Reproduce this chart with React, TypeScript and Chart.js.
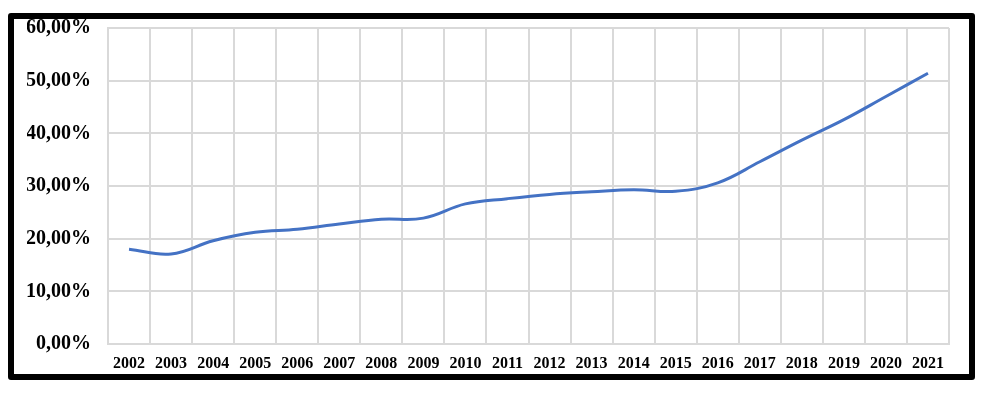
import React, { useEffect, useRef } from "react";
import { Chart, registerables } from "chart.js";

Chart.register(...registerables);

const years = ["2002","2003","2004","2005","2006","2007","2008","2009","2010","2011","2012","2013","2014","2015","2016","2017","2018","2019","2020","2021"];
const shareValues = [18.0, 17.1, 19.6, 21.2, 21.8, 22.8, 23.7, 23.9, 26.6, 27.6, 28.4, 28.9, 29.3, 29.0, 30.6, 34.6, 38.7, 42.6, 47.0, 51.4];
const yMin = 0;
const yMax = 60;
const yStep = 10;

export default function App() {
  const ref = useRef<HTMLCanvasElement>(null);
  useEffect(() => {
    if (!ref.current) return;
    const chart = new Chart(ref.current, {
      type: "line",
      data: {
        labels: years,
        datasets: [
          {
            data: shareValues,
            borderColor: "#4472C4",
            borderWidth: 3,
            pointRadius: 0,
            tension: 0.4,
            fill: false,
          },
        ],
      },
      options: {
        animation: false,
        responsive: false,
        maintainAspectRatio: false,
        layout: { padding: { left: 13, right: 20, top: 0, bottom: -19 } },
        plugins: { legend: { display: false }, tooltip: { enabled: false } },
        scales: {
          x: {
            offset: true,
            grid: { color: "#d9d9d9", lineWidth: 2, offset: true, drawTicks: false },
            border: { color: "#d9d9d9", width: 2 },
            ticks: {
              color: "#000",
              padding: 10,
              maxRotation: 0,
              autoSkip: false,
              font: { family: "'Liberation Serif', 'Times New Roman', serif", size: 16, weight: "bold" },
            },
          },
          y: {
            min: yMin,
            max: yMax,
            grid: { color: "#d9d9d9", lineWidth: 2, drawTicks: false },
            border: { color: "#d9d9d9", width: 2 },
            ticks: {
              stepSize: yStep,
              color: "#000",
              padding: 17,
              font: { family: "'Liberation Serif', 'Times New Roman', serif", size: 20, weight: "bold" },
              callback: (v: any) => Number(v).toFixed(2).replace(".", ",") + "%",
            },
            afterFit: (s: any) => { s.width = 81; },
          },
        },
      },
    });
    return () => chart.destroy();
  }, []);
  return (
    <div style={{ paddingTop: 5 }}>
      <div
        style={{
          width: 967,
          height: 367,
          boxSizing: "border-box",
          border: "6px solid #000",
          borderRadius: 3,
          background: "#fff",
          overflow: "hidden",
        }}
      >
        <canvas ref={ref} width={955} height={374} style={{ display: "block", marginTop: -20 }} />
      </div>
    </div>
  );
}
